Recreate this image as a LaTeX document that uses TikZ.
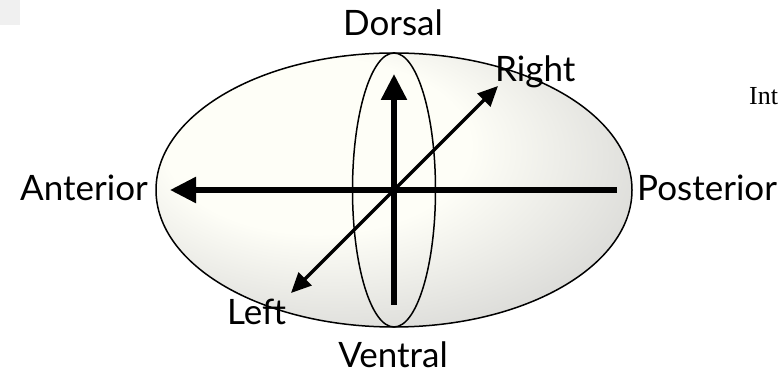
\documentclass[tikz,border=0pt]{standalone}
\usepackage{fontspec}
\setmainfont{Lato}
\newfontfamily\serifint{Liberation Serif}
\usetikzlibrary{arrows.meta}
\definecolor{cream}{RGB}{254,254,247}
\definecolor{edgegray}{RGB}{196,196,196}
\pgfdeclareradialshading{eggshade}{\pgfpoint{-11bp}{11bp}}{color(0bp)=(cream); color(16bp)=(cream); color(44bp)=(edgegray); color(60bp)=(edgegray)}
\tikzset{
  lbl/.style={inner sep=1pt, font=\fontsize{35}{38}\selectfont},
  outline/.style={draw=black, line width=1.5pt},
  thickarrow/.style={line width=5.5pt, -{Triangle[length=26pt,width=25pt]}},
  diagarrow/.style={line width=3.2pt, {Triangle[length=20pt,width=18pt]}-{Triangle[length=20pt,width=18pt]}},
}
\begin{document}
\begin{tikzpicture}[x=1pt,y=-1pt]
\useasboundingbox (0,0) rectangle (779,379);
\fill[black!6] (0,0) rectangle (20,25);
% body
\coordinate (c) at (394,190);
\path[outline, shading=eggshade] (c) ellipse [x radius=238, y radius=137];
\draw[outline] (c) ellipse [x radius=41.5, y radius=137];
% axes
\coordinate (vtail) at (394,305);
\coordinate (vtip) at (394,74);
\coordinate (htail) at (617,190);
\coordinate (htip) at (170,190);
\coordinate (dl) at (291,293);
\coordinate (dr) at (498,86);
\draw[thickarrow] (vtail) -- (vtip);
\draw[thickarrow] (htail) -- (htip);
\draw[diagarrow] (dl) -- (dr);
% labels
\node[lbl] (dorsal) at (393,23) {Dorsal};
\node[lbl] (ventral) at (393,355) {Ventral};
\node[lbl, anchor=east] (anterior) at (149,188) {Anterior};
\node[lbl, anchor=west] (posterior) at (636,188) {Posterior};
\node[lbl, anchor=west] (right) at (494,72) {Right};
\node[lbl, anchor=west] (left) at (226,312) {Left};
\node[anchor=west, inner sep=0pt, font=\serifint\fontsize{26}{28}\selectfont] (int) at (749,96) {Int};
\end{tikzpicture}
\end{document}
